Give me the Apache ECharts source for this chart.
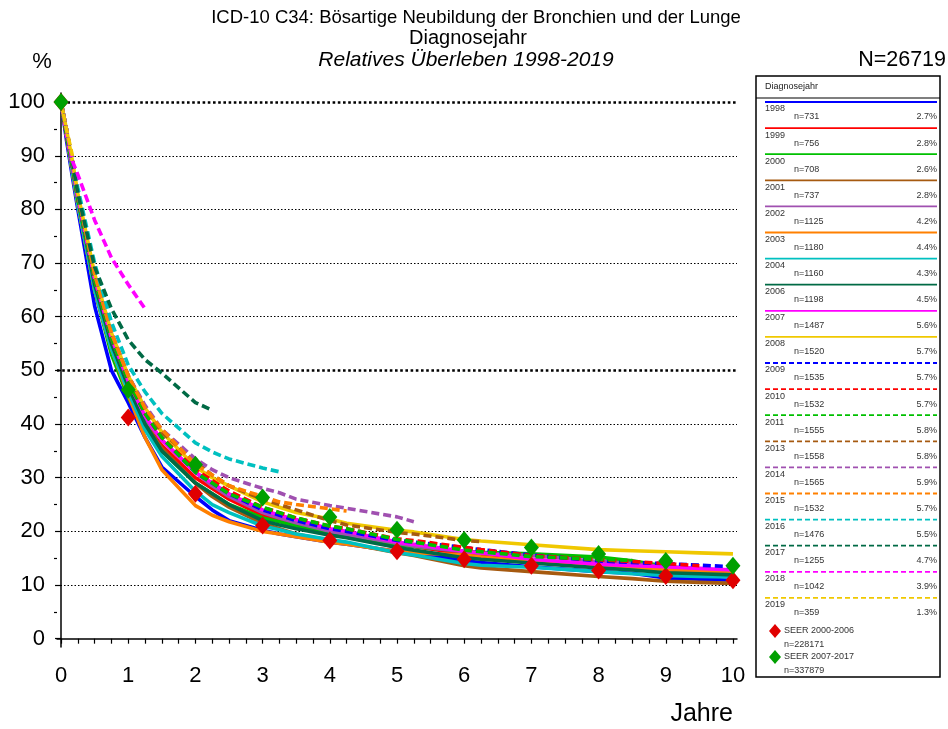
<!DOCTYPE html>
<html>
<head>
<meta charset="utf-8">
<script src="https://cdn.jsdelivr.net/npm/echarts@6/dist/echarts.min.js"></script>
<style>
  html, body { margin: 0; background: #fff; }
  #main { width: 948px; height: 729px; }
</style>
</head>
<body>
<div id="main"></div>
<script>
// time grid (years after diagnosis)
var T = [0, 0.08, 0.17, 0.25, 0.5, 0.75, 1, 1.25, 1.5, 2, 2.25, 2.5, 3, 3.25, 3.5, 4, 4.25, 5, 5.25, 6, 6.25, 7, 8, 8.5, 9, 9.5, 10];

var years = ['1998', '1999', '2000', '2001', '2002', '2003', '2004', '2006', '2007', '2008',
             '2009', '2010', '2011', '2013', '2014', '2015', '2016', '2017', '2018', '2019'];
var nCases = [731, 756, 708, 737, 1125, 1180, 1160, 1198, 1487, 1520,
              1535, 1532, 1555, 1558, 1565, 1532, 1476, 1255, 1042, 359];
var shares = ['2.7%', '2.8%', '2.6%', '2.8%', '4.2%', '4.4%', '4.3%', '4.5%', '5.6%', '5.7%',
              '5.7%', '5.7%', '5.8%', '5.8%', '5.9%', '5.7%', '5.5%', '4.7%', '3.9%', '1.3%'];

// relative survival in %, one value per T point (shorter = less follow-up)
var s1998 = [100, 93, 86, 80, 62, 50, 44, 37.5, 32, 26.5, 24, 22, 20.2, 19.5, 19, 18, 17.6, 16.3, 16, 14.5, 14.2, 13.4, 12.5, 12.2, 11.3, 11.1, 10.9];
var s1999 = [100, 94, 87, 81, 65, 54, 46, 40, 36, 30, 28, 26, 23, 22.2, 21.5, 20, 19.3, 17.6, 17.2, 15.8, 15.4, 14.8, 13.6, 13.2, 12.6, 12.1, 11.7];
var s2000 = [100, 94, 87, 81, 65, 53, 45, 39, 35, 29, 27, 25, 22.5, 21.8, 21, 19.5, 19, 17.5, 17.2, 16.3, 16.1, 15.8, 15.2, 14.5, 13.5, 12.8, 12.3];
var s2001 = [100, 94, 87, 81, 65, 54, 46, 40, 35.5, 29, 26.5, 24.5, 21.5, 20.5, 19.5, 18.3, 17.8, 16, 15.5, 13.6, 13.2, 12.5, 11.6, 11.2, 10.7, 10.5, 10.3];
var s2002 = [100, 94, 88, 82, 66, 55, 47, 41, 37, 31, 28.5, 26.5, 23.5, 22.5, 21.6, 20, 19.4, 17.8, 17.3, 16.2, 15.9, 15.5, 14.4, 14, 13.4, 13, 12.6];
var s2003 = [100, 94, 87, 81, 65, 54, 45.5, 37.5, 31.5, 24.8, 23, 21.8, 20, 19.5, 19, 18, 17.6, 16.3, 16, 15.6, 15.2, 14.4, 13.6, 13.3, 12.8, 12.5, 12.3];
var s2004 = [100, 94, 87, 81, 65, 54, 46, 39, 34, 27.5, 25, 23.5, 21, 20.3, 19.5, 18.5, 18, 16, 15.6, 14, 13.7, 13.3, 12.5, 12.1, 11.8, 11.6, 11.5];
var s2006 = [100, 94, 88, 82, 66, 55, 47, 40, 35, 29, 27, 25, 22, 21.2, 20.5, 19.3, 18.8, 17, 16.5, 15.1, 14.8, 14.1, 13.2, 12.8, 12.3, 12.1, 11.9];
var s2007 = [100, 94, 88, 82, 67, 56, 48, 41.5, 37, 31, 29, 27, 24, 23, 22.2, 20.5, 20, 18, 17.6, 16.3, 16, 14.8, 13.9, 13.6, 13.4, 13.1, 12.8];
var s2008 = [100, 95, 89, 83, 68, 57, 49, 43, 38.5, 32, 30, 28.5, 25.5, 24.5, 23.5, 22.3, 21.5, 20.2, 19.9, 18.5, 18.2, 17.5, 16.6, 16.4, 16.2, 16, 15.8];
var s2009 = [100, 94, 88, 82, 67, 56, 48, 42, 37.5, 31, 29, 27, 24, 23, 22, 20.5, 20, 18.3, 18, 17, 16.6, 15.6, 14.5, 14.2, 14, 13.7, 13.4];
var s2010 = [100, 94, 88, 82, 67, 56, 48, 42, 37.5, 31.5, 29.5, 27.5, 24.5, 23.5, 22.5, 21, 20.5, 18.6, 18.3, 17, 16.6, 15.5, 14.7, 14.4, 14, 13.6];
var s2011 = [100, 94, 88, 82, 67, 56, 48, 42, 37.5, 31, 29, 27, 24.5, 23.5, 22.5, 21, 20.5, 18.5, 18, 16.5, 16.2, 15.3, 14.8, 14.6];
var s2013 = [100, 95, 89, 83, 68, 57, 49, 43, 38.5, 33, 30.5, 28.5, 26, 25, 24, 22, 21.2, 19.8, 19.5, 18.3, 18.1];
var s2014 = [100, 95, 89, 83, 68, 57, 49, 43.5, 39, 33.5, 31.5, 30, 28, 27.2, 26, 24.8, 24.3, 22.7, 21.8];
var s2015 = [100, 95, 89, 83, 68, 57, 49, 43, 39, 32.5, 30.5, 28.5, 26.5, 25.5, 25, 24.2, 23.8];
var s2016 = [100, 95, 89, 84, 70, 59, 51, 46, 42, 36.5, 34.8, 33.5, 31.8, 31.1];
var s2017 = [100, 95, 89, 83, 69.3, 61.5, 55.7, 52, 49.5, 44, 42.6];
var s2018 = [100, 95, 89, 86.5, 78, 71, 66, 61.5];
var s2019 = [100, 95, 90];

var survival = [s1998, s1999, s2000, s2001, s2002, s2003, s2004, s2006, s2007, s2008,
                s2009, s2010, s2011, s2013, s2014, s2015, s2016, s2017, s2018, s2019];

// SEER reference points at whole years
var seerYears = [0, 1, 2, 3, 4, 5, 6, 7, 8, 9, 10];
var seer0006 = [100, 41.2, 27.0, 21.1, 18.3, 16.3, 14.8, 13.6, 12.7, 11.7, 10.9];
var seer0717 = [100, 46.4, 32.4, 26.3, 22.7, 20.3, 18.4, 17.0, 15.8, 14.5, 13.6];

var xTicks = [0, 1, 2, 3, 4, 5, 6, 7, 8, 9, 10];
var yTicks = [0, 10, 20, 30, 40, 50, 60, 70, 80, 90, 100];
var yMinor = [5, 15, 25, 35, 45, 55, 65, 75, 85, 95];
var gridValues = [10, 20, 30, 40, 60, 70, 80, 90];
var boldGridValues = [50, 100];

// styles
var colors = ['#0000ff', '#ff0000', '#00c000', '#a65a10', '#a050b0', '#ff8000', '#00c0c0', '#006a45', '#ff00ff', '#f0c800',
              '#0000ff', '#ff0000', '#00c000', '#a65a10', '#a050b0', '#ff8000', '#00c0c0', '#006a45', '#ff00ff', '#f0c800'];
var FONT = '"Liberation Sans", Arial, sans-serif';

var chart = echarts.init(document.getElementById('main'), null, { renderer: 'canvas' });

var quarterTicks = [];
for (var q = 0; q <= 40; q++) quarterTicks.push(q / 4);

var series = [];
survival.forEach(function (vals, i) {
  var dashed = i >= 10;
  var s = {
    name: years[i],
    type: 'line',
    showSymbol: false,
    animation: false,
    silent: true,
    z: 3,
    data: vals.map(function (v, k) { return [T[k], v]; }),
    lineStyle: { color: colors[i], width: 3.6, type: dashed ? [8, 4] : 'solid', cap: 'butt' },
    itemStyle: { color: colors[i] }
  };
  if (i === 0) {
    s.markLine = {
      silent: true,
      symbol: ['none', 'none'],
      label: { show: false },
      animation: false,
      z: 1,
      data: gridValues.map(function (v) {
        return { yAxis: v, lineStyle: { color: '#000', width: 1.2, type: [1.5, 2] } };
      }).concat(boldGridValues.map(function (v) {
        return { yAxis: v, lineStyle: { color: '#000', width: 2.6, type: [2.6, 2.6] } };
      }))
    };
  }
  series.push(s);
});

series.push({
  name: 'SEER 2000-2006', type: 'scatter', symbol: 'diamond', symbolSize: [15, 18],
  animation: false, silent: true, z: 10,
  itemStyle: { color: '#e00000', opacity: 1 },
  data: seer0006.map(function (v, k) { return [seerYears[k], v]; })
});
series.push({
  name: 'SEER 2007-2017', type: 'scatter', symbol: 'diamond', symbolSize: [15, 18],
  animation: false, silent: true, z: 11,
  itemStyle: { color: '#00a000', opacity: 1 },
  data: seer0717.map(function (v, k) { return [seerYears[k], v]; })
});

// custom legend box
var graphics = [];
var LX = 756, LY = 76, LW = 184, LH = 601;
graphics.push({ type: 'rect', shape: { x: LX, y: LY, width: LW, height: LH },
  style: { fill: '#fff', stroke: '#000', lineWidth: 1.5 } });
graphics.push({ type: 'text', x: LX + 9, y: 87,
  style: { text: 'Diagnosejahr', font: '9px ' + FONT, fill: '#222', verticalAlign: 'middle' } });
graphics.push({ type: 'line', shape: { x1: LX, y1: 98, x2: LX + LW, y2: 98 },
  style: { stroke: '#000', lineWidth: 1.2 } });
years.forEach(function (y, i) {
  var ly = 102 + i * 26.1;
  graphics.push({ type: 'line', shape: { x1: 765, y1: ly, x2: 937, y2: ly },
    style: { stroke: colors[i], lineWidth: 1.8, lineDash: i >= 10 ? [5, 3] : null } });
  graphics.push({ type: 'text', x: 765, y: ly + 7,
    style: { text: y, font: '9px ' + FONT, fill: '#333', verticalAlign: 'middle' } });
  graphics.push({ type: 'text', x: 794, y: ly + 15,
    style: { text: 'n=' + nCases[i], font: '9px ' + FONT, fill: '#333', verticalAlign: 'middle' } });
  graphics.push({ type: 'text', x: 937, y: ly + 15,
    style: { text: shares[i], font: '9px ' + FONT, fill: '#333', align: 'right', verticalAlign: 'middle' } });
});
function diamond(cx, cy, color) {
  return { type: 'polygon', shape: { points: [[cx, cy - 7], [cx + 6, cy], [cx, cy + 7], [cx - 6, cy]] },
    style: { fill: color } };
}
graphics.push(diamond(775, 631, '#e00000'));
graphics.push({ type: 'text', x: 784, y: 631, style: { text: 'SEER 2000-2006', font: '9px ' + FONT, fill: '#333', verticalAlign: 'middle' } });
graphics.push({ type: 'text', x: 784, y: 645, style: { text: 'n=228171', font: '9px ' + FONT, fill: '#333', verticalAlign: 'middle' } });
graphics.push(diamond(775, 657, '#00a000'));
graphics.push({ type: 'text', x: 784, y: 657, style: { text: 'SEER 2007-2017', font: '9px ' + FONT, fill: '#333', verticalAlign: 'middle' } });
graphics.push({ type: 'text', x: 784, y: 671, style: { text: 'n=337879', font: '9px ' + FONT, fill: '#333', verticalAlign: 'middle' } });

// titles and axis captions
graphics.push({ type: 'text', x: 476, y: 18, style: { text: 'ICD-10 C34: Bösartige Neubildung der Bronchien und der Lunge', font: '18.5px ' + FONT, fill: '#000', align: 'center', verticalAlign: 'middle' } });
graphics.push({ type: 'text', x: 468, y: 38, style: { text: 'Diagnosejahr', font: '20px ' + FONT, fill: '#000', align: 'center', verticalAlign: 'middle' } });
graphics.push({ type: 'text', x: 466, y: 60, style: { text: 'Relatives Überleben 1998-2019', font: 'italic 21px ' + FONT, fill: '#000', align: 'center', verticalAlign: 'middle' } });
graphics.push({ type: 'text', x: 42, y: 62, style: { text: '%', font: '22px ' + FONT, fill: '#000', align: 'center', verticalAlign: 'middle' } });
graphics.push({ type: 'text', x: 946, y: 60, style: { text: 'N=26719', font: '21.5px ' + FONT, fill: '#000', align: 'right', verticalAlign: 'middle' } });
graphics.push({ type: 'text', x: 733, y: 714, style: { text: 'Jahre', font: '25px ' + FONT, fill: '#000', align: 'right', verticalAlign: 'middle' } });

var option = {
  animation: false,
  backgroundColor: '#fff',
  grid: { left: 57, right: 211, top: 93, height: 554, containLabel: false },
  xAxis: {
    type: 'value', min: -0.06, max: 10.06,
    axisLine: { lineStyle: { color: '#000', width: 1.5 } },
    axisTick: { customValues: quarterTicks, length: 5, lineStyle: { color: '#000', width: 1.2 } },
    axisLabel: { customValues: xTicks, fontSize: 22, color: '#000', margin: 18, fontFamily: FONT },
    splitLine: { show: false }
  },
  yAxis: [{
    type: 'value', min: -1.55, max: 101.7,
    axisLine: { show: true, lineStyle: { color: '#000', width: 1.5 } },
    axisTick: { show: true, customValues: yTicks, length: 6, lineStyle: { color: '#000', width: 1.2 } },
    axisLabel: { customValues: yTicks, fontSize: 22, color: '#000', margin: 12, fontFamily: FONT },
    splitLine: { show: false }
  }, {
    type: 'value', min: -1.55, max: 101.7, position: 'left',
    axisLine: { show: false },
    axisTick: { show: true, customValues: yMinor, length: 3, lineStyle: { color: '#000', width: 1.2 } },
    axisLabel: { show: false },
    splitLine: { show: false }
  }],
  series: series,
  graphic: graphics
};
chart.setOption(option);
</script>
</body>
</html>
